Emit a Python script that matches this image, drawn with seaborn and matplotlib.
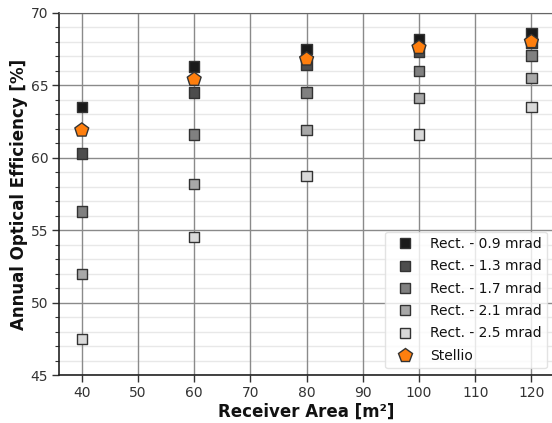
import numpy as np
import pandas as pd
import matplotlib
matplotlib.use("Agg")
import matplotlib.pyplot as plt
from matplotlib.ticker import MultipleLocator
import seaborn as sns

area = [40, 60, 80, 100, 120]
rect_09 = [63.5, 66.3, 67.5, 68.2, 68.6]
rect_13 = [60.3, 64.5, 66.4, 67.3, 67.9]
rect_17 = [56.3, 61.6, 64.5, 66.0, 67.05]
rect_21 = [52.0, 58.2, 61.9, 64.1, 65.5]
rect_25 = [47.5, 54.55, 58.75, 61.6, 63.5]
stellio = [61.9, 65.4, 66.8, 67.6, 68.0]

labels = ["Rect. - 0.9 mrad", "Rect. - 1.3 mrad", "Rect. - 1.7 mrad",
          "Rect. - 2.1 mrad", "Rect. - 2.5 mrad", "Stellio"]
colors = ["#1a1a1a", "#4d4d4d", "#808080", "#a8a8a8", "#d9d9d9", "#ff7f0e"]

rows = []
for lab, vals in zip(labels, [rect_09, rect_13, rect_17, rect_21, rect_25, stellio]):
    for a, v in zip(area, vals):
        rows.append({"area": a, "eff": v, "series": lab})
df = pd.DataFrame(rows)

sns.set_style("white")
plt.rcParams['font.family'] = ['DejaVu Sans']
plt.rcParams['text.color'] = '#111111'
plt.rcParams['axes.labelcolor'] = '#111111'

fig = plt.figure(figsize=(5.52, 4.23), dpi=100)
ax = fig.add_axes([59.3 / 552, 47.7 / 423, 494.6 / 552, 362.6 / 423])

rect_df = df[df.series != "Stellio"]
sns.scatterplot(data=rect_df, x="area", y="eff", hue="series", hue_order=labels[:5],
                palette=colors[:5], marker="s", s=55, edgecolor="#333333",
                linewidth=1, ax=ax, zorder=3)
st_df = df[df.series == "Stellio"]
sns.scatterplot(data=st_df, x="area", y="eff", hue="series", palette=[colors[5]],
                marker="p", s=110, edgecolor="#333333", linewidth=1, ax=ax, zorder=4)

ax.set_xlim(36, 124)
ax.set_ylim(45, 70)
ax.xaxis.set_major_locator(MultipleLocator(10))
ax.yaxis.set_major_locator(MultipleLocator(5))
ax.yaxis.set_minor_locator(MultipleLocator(1))

ax.grid(True, which="major", color="#8a8a8a", linewidth=1)
ax.grid(True, which="minor", axis="y", color="#e8e8e8", linewidth=1)
ax.set_axisbelow(True)
# vertical grid lines over the light minor ones
ax.xaxis.set_zorder(0.6)

ax.tick_params(axis="both", which="major", direction="out", length=5, width=1,
               color="#333333", labelsize=10, labelcolor="#333333",
               bottom=True, left=True, pad=3)
ax.tick_params(axis="y", which="minor", direction="out", length=3, width=0.8,
               color="#333333", left=True)

for side in ["left", "bottom"]:
    ax.spines[side].set_color("#222222")
    ax.spines[side].set_linewidth(1.2)
    ax.spines[side].set_zorder(2.5)
ax.spines["top"].set_color("#666666")
ax.spines["right"].set_visible(False)

ax.set_xlabel("Receiver Area [m²]", fontsize=12, fontweight="bold", labelpad=2)
ax.set_ylabel("Annual Optical Efficiency [%]", fontsize=12, fontweight="bold", labelpad=2)

ax.legend(loc="lower right", fontsize=10, frameon=True, framealpha=0.8,
          edgecolor="#dddddd", title=None, handletextpad=0.8, labelspacing=0.6)

fig.savefig("out.png", dpi=100)
